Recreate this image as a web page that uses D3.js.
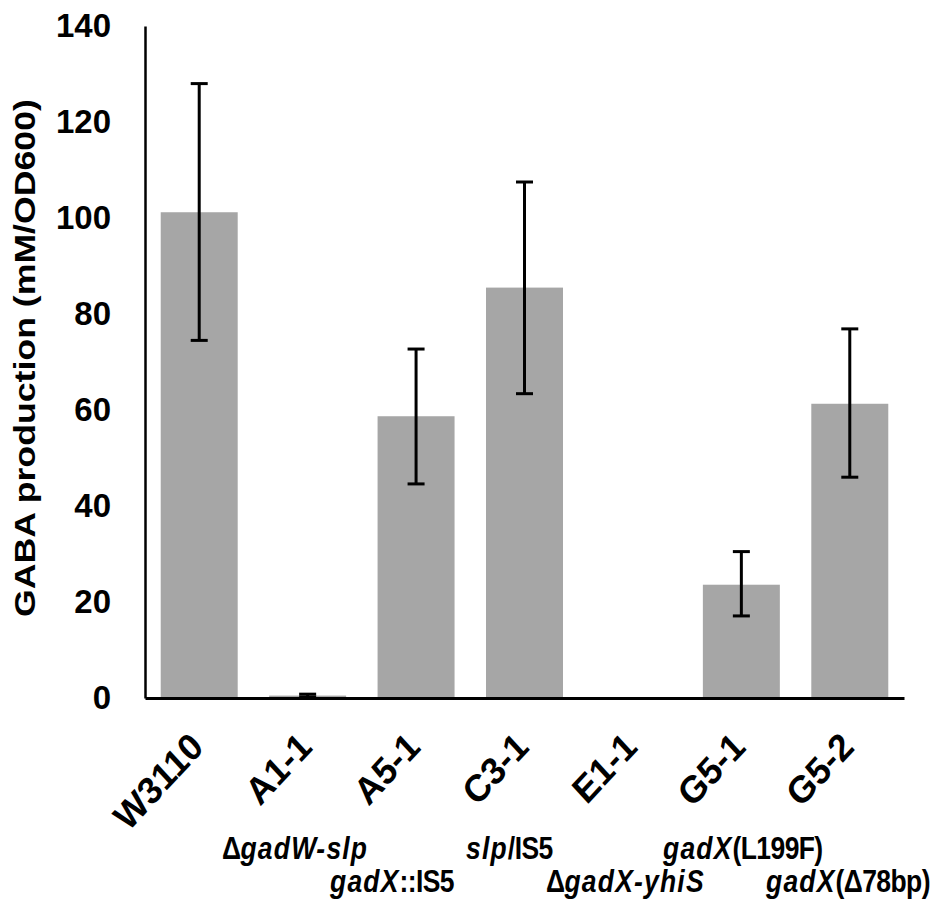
<!DOCTYPE html>
<html>
<head>
<meta charset="utf-8">
<script src="https://cdn.jsdelivr.net/npm/d3@7"></script>
<style>
  body { margin: 0; background: #fff; }
  svg text { font-family: "Liberation Sans", Arial, sans-serif; font-weight: bold; }
</style>
</head>
<body>
<svg id="canvas"></svg>
<script>
// strains and measured GABA (mM/OD600)
let strains = ["W3110", "A1-1", "A5-1", "C3-1", "E1-1", "G5-1", "G5-2"];
let means = [101.2, 0.5, 58.7, 85.5, 0, 23.6, 61.3];
let errLow = [74.5, 0.2, 44.6, 63.4, 0, 17.1, 46.0];
let errHigh = [128.0, 0.8, 72.7, 107.5, 0, 30.5, 76.9];
let yTicks = [0, 20, 40, 60, 80, 100, 120, 140];

// genotype notes under the axis, as [text, italic] segments
let notesRow1 = [
  [["\u0394", false], ["gadW-slp", true]],
  [["slp", true], ["/IS5", false]],
  [["gadX", true], ["(L199F)", false]]
];
let notesRow2 = [
  [["gadX", true], ["::IS5", false]],
  [["\u0394", false], ["gadX-yhiS", true]],
  [["gadX", true], ["(\u039478bp)", false]]
];

let width = 932;
let height = 903;
let plotLeft = 145, plotRight = 904, plotTop = 26, plotBottom = 698;

let canvas = d3.select("#canvas")
  .attr("width", width)
  .attr("height", height);

let xScale = d3.scaleBand()
  .domain(strains)
  .range([plotLeft, plotRight])
  .paddingInner(0.29)
  .paddingOuter(0.145);

let yScale = d3.scaleLinear()
  .domain([0, 140])
  .range([plotBottom, plotTop]);

// bars
canvas.selectAll("rect.bar")
  .data(strains)
  .enter()
  .append("rect")
  .attr("class", "bar")
  .attr("x", (d) => xScale(d))
  .attr("width", xScale.bandwidth())
  .attr("y", (d, i) => yScale(means[i]))
  .attr("height", (d, i) => plotBottom - yScale(means[i]))
  .attr("fill", "#a6a6a6");

// error bars
let errs = canvas.append("g")
  .attr("stroke", "#000")
  .attr("stroke-width", 3);

strains.forEach((d, i) => {
  if (errHigh[i] - errLow[i] <= 0) return;
  let cx = xScale(d) + xScale.bandwidth() / 2;
  errs.append("line")
    .attr("x1", cx).attr("x2", cx)
    .attr("y1", yScale(errLow[i])).attr("y2", yScale(errHigh[i]));
  [errLow[i], errHigh[i]].forEach((v) => {
    errs.append("line")
      .attr("x1", cx - 8.5).attr("x2", cx + 8.5)
      .attr("y1", yScale(v)).attr("y2", yScale(v));
  });
});

// axes
let yAxis = d3.axisLeft(yScale)
  .tickValues(yTicks)
  .tickSize(0)
  .tickPadding(34);

let gy = canvas.append("g")
  .attr("transform", "translate(" + plotLeft + ",0)")
  .call(yAxis);
gy.select(".domain").attr("stroke", "#000").attr("stroke-width", 2.5);
gy.selectAll("text")
  .attr("font-size", "33px")
  .attr("font-family", "Liberation Sans, Arial, sans-serif")
  .attr("font-weight", "bold")
  .attr("fill", "#000");

let xAxis = d3.axisBottom(xScale)
  .tickSize(0)
  .tickFormat("");

let gx = canvas.append("g")
  .attr("transform", "translate(0," + plotBottom + ")")
  .call(xAxis);
gx.select(".domain").attr("stroke", "#000").attr("stroke-width", 3);

// rotated strain labels
strains.forEach((d) => {
  let cx = xScale(d) + xScale.bandwidth() / 2;
  canvas.append("g")
    .attr("transform", "translate(" + (cx + 6) + "," + 749 + ") scale(1,1.08)")
    .append("text")
    .attr("transform", "rotate(-45)")
    .attr("text-anchor", "end")
    .attr("font-size", "35px")
    .text(d);
});

// y-axis title (stretched along its length like the source)
canvas.append("text")
  .attr("transform", "translate(35,358) rotate(-90) scale(1.23,1)")
  .attr("text-anchor", "middle")
  .attr("font-size", "29px")
  .text("GABA production (mM/OD600)");

// genotype notes
let drawNote = (segs, x, y) => {
  let t = canvas.append("g")
    .attr("transform", "translate(" + x + "," + y + ") scale(1,1.15)")
    .append("text")
    .attr("font-size", "26.5px");
  segs.forEach((s) => {
    t.append("tspan")
      .attr("font-style", s[1] ? "italic" : "normal")
      .attr("letter-spacing", s[1] ? "1.2px" : "-0.6px")
      .text(s[0]);
  });
};
let row1X = [222, 466, 663];
let row2X = [330, 546, 766];
notesRow1.forEach((s, i) => drawNote(s, row1X[i], 859));
notesRow2.forEach((s, i) => drawNote(s, row2X[i], 892));
</script>
</body>
</html>
